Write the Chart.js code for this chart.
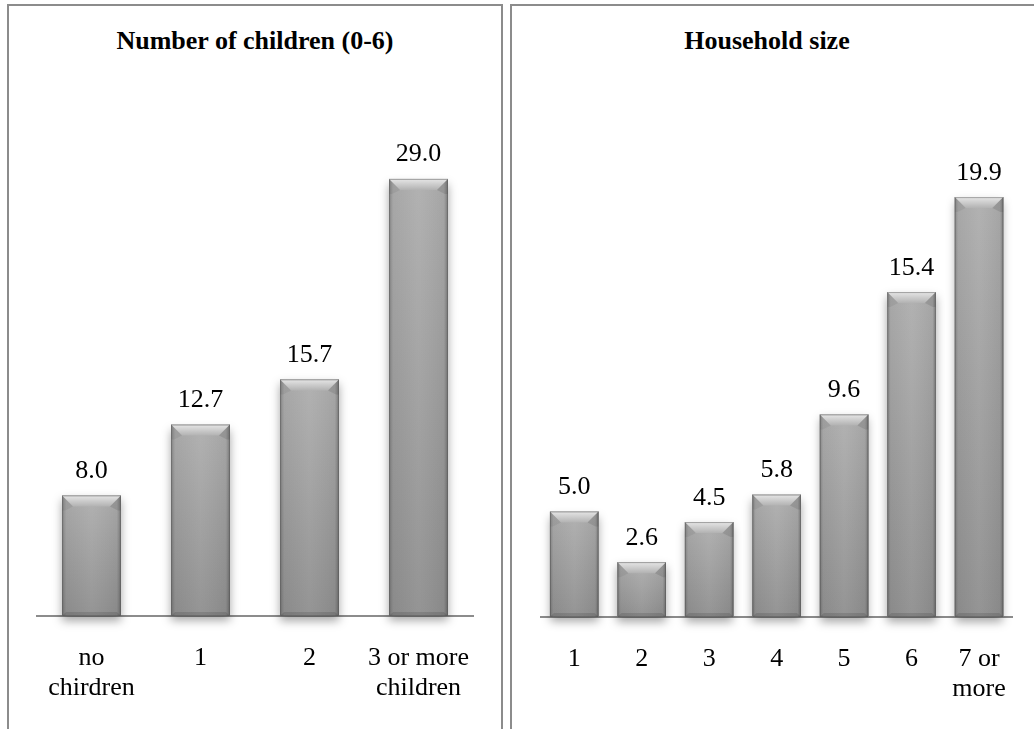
<!DOCTYPE html>
<html>
<head>
<meta charset="utf-8">
<script src="https://cdn.jsdelivr.net/npm/chart.js@4/dist/chart.umd.min.js"></script>
<style>
  html, body { margin: 0; padding: 0; background: #fff; }
  body { width: 1034px; height: 729px; overflow: hidden; position: relative; }
  .frame { position: absolute; border: 2px solid #8c8c8c; box-sizing: border-box; }
  .title { position: absolute; font-family: "Liberation Serif", "Times New Roman", serif; font-weight: bold;
           font-size: 26px; line-height: 30px; text-align: center; color: #000; white-space: nowrap; }
  canvas { position: absolute; }
</style>
</head>
<body>
<div class="frame" style="left:7px; top:4px; width:496px; height:800px;"></div>
<div class="frame" style="left:510px; top:4px; width:600px; height:800px;"></div>
<div class="title" style="left:9px; top:26px; width:492px;">Number of children (0-6)</div>
<div class="title" style="left:512px; top:26px; width:510px;">Household size</div>
<canvas id="c1" width="492" height="723" style="left:9px; top:6px;"></canvas>
<canvas id="c2" width="522" height="723" style="left:512px; top:6px;"></canvas>
<script>
// ---- data ----
const childCategories = [['no', 'chirdren'], '1', '2', ['3 or more', 'children']];
const childValues = [8.0, 12.7, 15.7, 29.0];
const childAxisMax = 35;

const householdCategories = ['1', '2', '3', '4', '5', '6', ['7 or', 'more']];
const householdValues = [5.0, 2.6, 4.5, 5.8, 9.6, 15.4, 19.9];
const householdAxisMax = 25;

const FONT_FAMILY = '"Liberation Serif", "Times New Roman", serif';

function barRects(chart) {
  const meta = chart.getDatasetMeta(0);
  return meta.data.map(el => {
    const p = el.getProps(['x', 'y', 'base', 'width'], true);
    return { x0: p.x - p.width / 2, x1: p.x + p.width / 2, y0: Math.min(p.y, p.base), y1: Math.max(p.y, p.base), cx: p.x };
  });
}

const bevelPlugin = {
  id: 'bevel',
  beforeDatasetsDraw(chart) {
    const ctx = chart.ctx;
    barRects(chart).forEach(r => {
      ctx.save();
      ctx.shadowColor = 'rgba(0,0,0,0.35)';
      ctx.shadowBlur = 9;
      ctx.shadowOffsetY = 5;
      ctx.fillStyle = '#999';
      ctx.fillRect(r.x0, r.y0, r.x1 - r.x0, r.y1 - r.y0);
      ctx.restore();
    });
  },
  afterDatasetsDraw(chart) {
    const ctx = chart.ctx;
    barRects(chart).forEach(r => {
      const w = r.x1 - r.x0, h = r.y1 - r.y0;
      ctx.save();
      // body
      let g = ctx.createLinearGradient(0, r.y0, 0, r.y1);
      g.addColorStop(0, '#afafaf');
      g.addColorStop(1, '#909090');
      ctx.fillStyle = g;
      ctx.fillRect(r.x0, r.y0, w, h);
      // horizontal edge shading
      let hg = ctx.createLinearGradient(r.x0, 0, r.x1, 0);
      hg.addColorStop(0, 'rgba(0,0,0,0.22)');
      hg.addColorStop(0.07, 'rgba(0,0,0,0.04)');
      hg.addColorStop(0.5, 'rgba(255,255,255,0.04)');
      hg.addColorStop(0.93, 'rgba(0,0,0,0.05)');
      hg.addColorStop(1, 'rgba(0,0,0,0.28)');
      ctx.fillStyle = hg;
      ctx.fillRect(r.x0, r.y0, w, h);
      // top bevel
      const b = Math.min(11, h / 3);
      let tg = ctx.createLinearGradient(0, r.y0, 0, r.y0 + b);
      tg.addColorStop(0, '#e6e6e6');
      tg.addColorStop(1, '#b2b2b2');
      ctx.beginPath();
      ctx.moveTo(r.x0, r.y0);
      ctx.lineTo(r.x1, r.y0);
      ctx.lineTo(r.x1 - b, r.y0 + b);
      ctx.lineTo(r.x0 + b, r.y0 + b);
      ctx.closePath();
      ctx.fillStyle = tg;
      ctx.fill();
      // corner side bevels
      ctx.beginPath();
      ctx.moveTo(r.x0, r.y0);
      ctx.lineTo(r.x0 + b, r.y0 + b);
      ctx.lineTo(r.x0 + 3, r.y0 + b + 4);
      ctx.lineTo(r.x0, r.y0 + b + 4);
      ctx.closePath();
      ctx.fillStyle = 'rgba(0,0,0,0.06)';
      ctx.fill();
      ctx.beginPath();
      ctx.moveTo(r.x1, r.y0);
      ctx.lineTo(r.x1 - b, r.y0 + b);
      ctx.lineTo(r.x1 - 3, r.y0 + b + 4);
      ctx.lineTo(r.x1, r.y0 + b + 4);
      ctx.closePath();
      ctx.fillStyle = 'rgba(0,0,0,0.1)';
      ctx.fill();
      // bottom bevel
      ctx.beginPath();
      ctx.moveTo(r.x0, r.y1);
      ctx.lineTo(r.x0 + 4, r.y1 - 4);
      ctx.lineTo(r.x1 - 4, r.y1 - 4);
      ctx.lineTo(r.x1, r.y1);
      ctx.closePath();
      ctx.fillStyle = 'rgba(0,0,0,0.12)';
      ctx.fill();
      // outline
      ctx.strokeStyle = 'rgba(80,80,80,0.45)';
      ctx.lineWidth = 1;
      ctx.strokeRect(r.x0 + 0.5, r.y0 + 0.5, w - 1, h - 1);
      ctx.restore();
    });
    // value labels
    const vals = chart.data.datasets[0].data;
    ctx.save();
    ctx.font = '26px ' + FONT_FAMILY;
    ctx.fillStyle = '#000';
    ctx.textAlign = 'center';
    ctx.textBaseline = 'alphabetic';
    barRects(chart).forEach((r, i) => {
      ctx.fillText(vals[i].toFixed(1), r.cx, r.y0 - 17.5);
    });
    ctx.restore();
  }
};

function makeChart(id, categories, values, axisMax, barPct, pad, axisHeight) {
  return new Chart(document.getElementById(id), {
    type: 'bar',
    data: {
      labels: categories,
      datasets: [{ data: values, backgroundColor: '#9e9e9e', borderWidth: 0,
                   barPercentage: barPct, categoryPercentage: 1 }]
    },
    options: {
      responsive: false,
      animation: false,
      devicePixelRatio: 1,
      layout: { padding: pad },
      plugins: { legend: { display: false }, tooltip: { enabled: false }, title: { display: false } },
      scales: {
        x: {
          grid: { display: false, drawTicks: false },
          border: { display: true, color: '#8c8c8c', width: 2 },
          ticks: { color: '#000', font: { family: FONT_FAMILY, size: 26, lineHeight: 1.15 },
                   padding: 27, maxRotation: 0, autoSkip: false },
          afterFit(s) { s.height = axisHeight; }
        },
        y: { display: false, min: 0, max: axisMax }
      }
    },
    plugins: [bevelPlugin]
  });
}

makeChart('c1', childCategories, childValues, childAxisMax, 0.54,
          { left: 28, right: 28, top: 82.5, bottom: 0 }, 113);
makeChart('c2', householdCategories, householdValues, householdAxisMax, 0.72,
          { left: 28.5, right: 17.5, top: 83.5, bottom: 0 }, 112);
</script>
</body>
</html>
